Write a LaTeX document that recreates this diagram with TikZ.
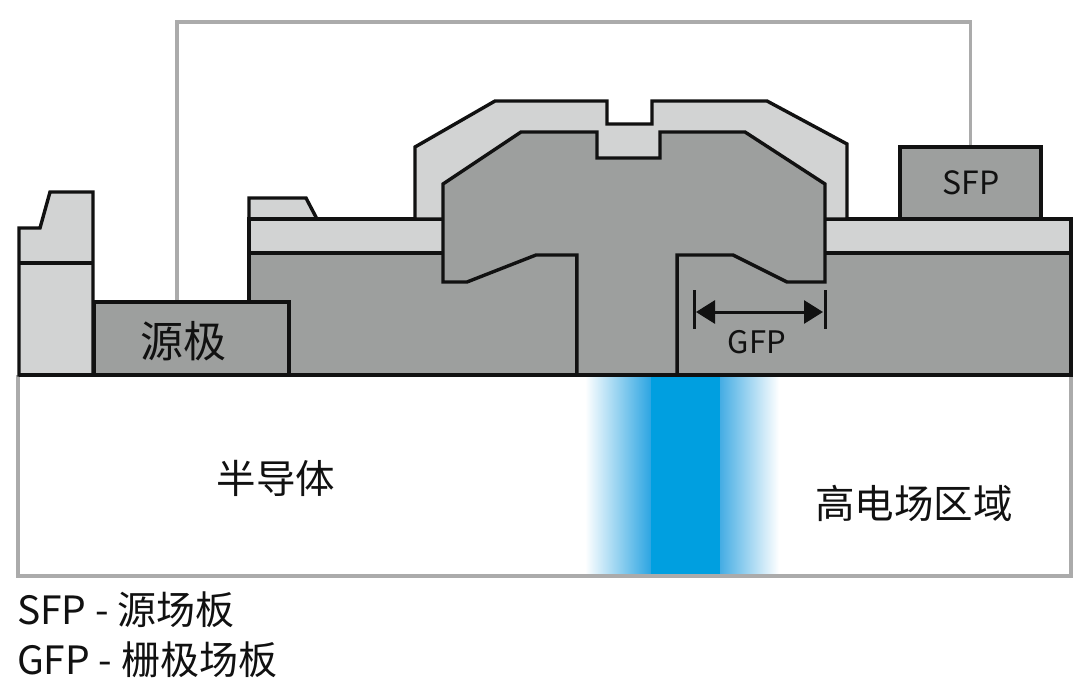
\documentclass[tikz,border=0pt]{standalone}
\usepackage{fontspec}
\setmainfont{Noto Sans CJK SC}
\usetikzlibrary{arrows.meta}
\definecolor{inkline}{HTML}{111111}
\definecolor{darkfill}{HTML}{9D9F9E}
\definecolor{lightfill}{HTML}{D2D3D3}
\definecolor{framegray}{HTML}{ABABAB}
\definecolor{fieldblue}{HTML}{009FE0}
\definecolor{fieldblueL}{HTML}{2CA5E2}
\definecolor{fieldblueM}{HTML}{A3CCEC}
\definecolor{fieldblueR}{HTML}{45ADE4}
\tikzset{
  layerdark/.style={draw=inkline,fill=darkfill,line width=3.4pt,line join=miter},
  layerlight/.style={draw=inkline,fill=lightfill,line width=3.4pt,line join=miter},
  wire/.style={draw=framegray,line width=3.8pt,line join=miter},
  label/.style={inner sep=0pt,outer sep=0pt,text=inkline},
  block/.style={layerdark,inner sep=0pt,outer sep=0pt,anchor=north west},
  dimbar/.style={draw=inkline,line width=3pt},
  dimarrow/.style={draw=inkline,line width=3pt,{Triangle[length=19pt,width=23pt]}-{Triangle[length=19pt,width=23pt]}}
}
\pgfdeclarelayer{under}
\pgfsetlayers{under,main}
\begin{document}
\begin{tikzpicture}[x=1pt,y=-1pt]
\useasboundingbox (0,0) rectangle (1080,691);

% source and source field plate
\node[block,minimum width=195pt,minimum height=73pt] (source) at (94,302) {};
\node[block,minimum width=141pt,minimum height=72pt] (sfp) at (900,147) {};
\node[label,font=\fontsize{43}{43}\selectfont] (sourcetext) at (183,341) {源极};
\node[label,font=\fontsize{32}{32}\selectfont] (sfptext) at (971,183) {SFP};

% connection between source and field plate runs beneath the blocks
\coordinate (wireL) at (177,22);
\coordinate (wireR) at (970.5,22);
\begin{pgfonlayer}{under}
\fill[white] (0,0) rectangle (1080,691);
\draw[wire] (wireL |- source.north) -- (wireL) -- (wireR) -- (sfp.north);

% high-field band in the semiconductor
\shade[left color=white,middle color=fieldblueM,right color=fieldblueL] (585,376) rectangle (651,575);
\fill[fieldblue] (651,376) rectangle (720,575);
\shade[left color=fieldblueR,middle color=fieldblueM,right color=white] (720,376) rectangle (779,575);

% semiconductor outline
\draw[wire] (18,375) -- (18,576) -- (1071,576) -- (1071,375);

% left isolation stack
\draw[layerlight] (19,375) -- (19,228) -- (40,228) -- (50,192) -- (93,192) -- (93,375) -- cycle;
\draw[layerlight] (19,263) -- (93,263);

% passivation and barrier layers, left of the gate
\draw[layerlight] (249,219) -- (249,198) -- (306,198) -- (317,219) -- cycle;
\draw[layerlight] (249,253) -- (249,219) -- (450,219) -- (450,253) -- cycle;
\draw[layerdark] (249,375) -- (249,253) -- (577,253) -- (577,375) -- cycle;

% passivation and barrier layers, right of the gate
\draw[layerlight] (820,219) rectangle (1071,253);
\draw[layerdark] (677,375) -- (677,253) -- (1071,253) -- (1071,375) -- cycle;

% dielectric cap over the gate
\draw[layerlight] (415,219) -- (415,147) -- (495,101) -- (607,101) -- (607,124)
  -- (652,124) -- (652,101) -- (767,101) -- (847,144) -- (847,219) -- cycle;

% T-shaped gate
\draw[layerdark] (443,184) -- (521,132) -- (597,132) -- (597,158) -- (660,158) -- (660,132)
  -- (745,132) -- (825,184) -- (825,282) -- (787,282) -- (733,255) -- (677,255)
  -- (677,375) -- (577,375) -- (577,255) -- (536,255) -- (467,282) -- (443,282) -- cycle;
\end{pgfonlayer}

% baseline of the epitaxial stack
\draw[draw=inkline,line width=3.4pt] (19,375) -- (1071,375);

% GFP dimension
\coordinate (gfpL) at (694,290);
\coordinate (gfpR) at (825,290);
\draw[dimbar] (gfpL) -- (694,329);
\draw[dimbar] (gfpR) -- (825,329);
\coordinate (gfpAL) at (696,312);
\coordinate (gfpAR) at (823,312);
\draw[dimarrow] (gfpAL) -- (gfpAR);
\node[label,font=\fontsize{31}{31}\selectfont] (gfp) at (757,342) {GFP};

% captions
\node[label,font=\fontsize{39.5}{39.5}\selectfont] (semi) at (276,478) {半导体};
\node[label,font=\fontsize{39.5}{39.5}\selectfont] (field) at (914,503) {高电场区域};
\node[label,anchor=west,font=\fontsize{39}{39}\selectfont] (legA) at (17,610) {SFP - 源场板};
\node[label,anchor=west,font=\fontsize{39}{39}\selectfont] (legB) at (17,660) {GFP - 栅极场板};
\end{tikzpicture}
\end{document}
